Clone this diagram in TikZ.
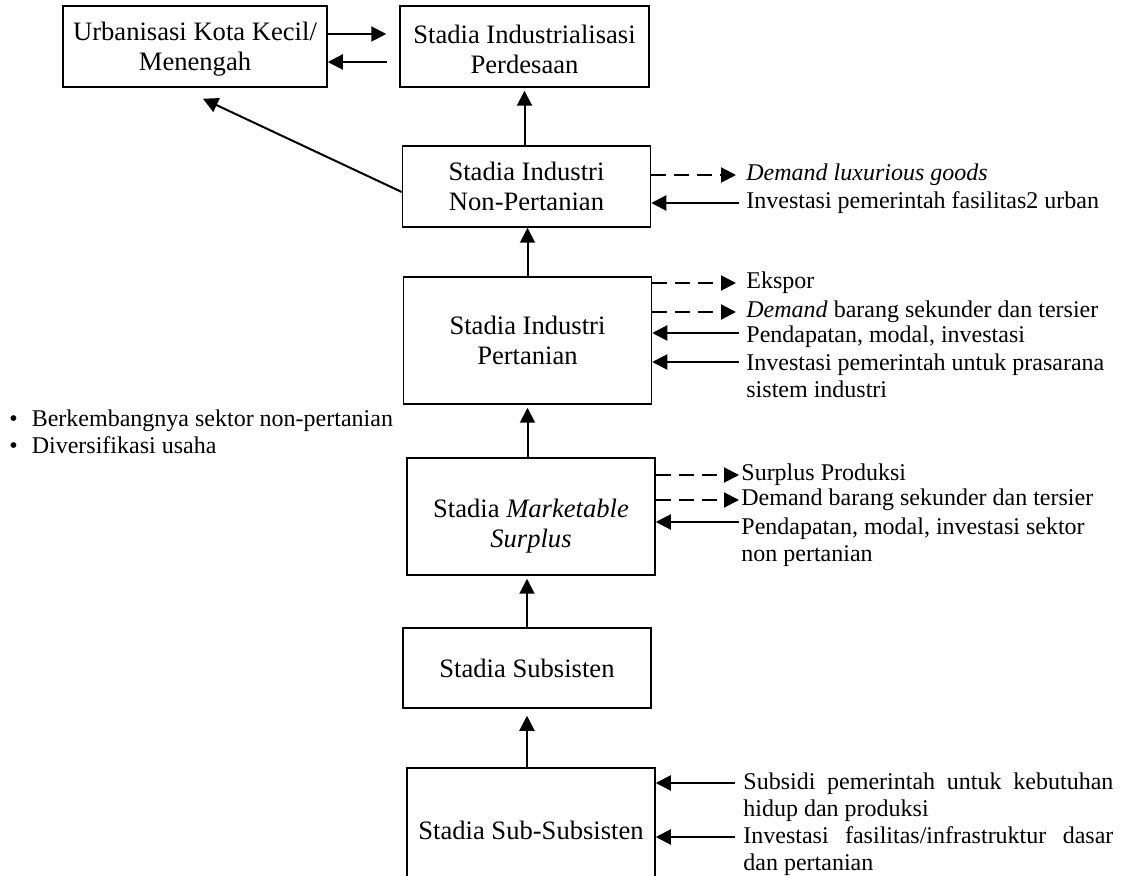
\documentclass[tikz,border=0pt]{standalone}
\usepackage{fontspec}
\setmainfont{Liberation Serif}
\usetikzlibrary{arrows.meta,calc,positioning}

\tikzset{
  stadia/.style={draw,line width=0.75pt,align=center,inner sep=2pt,minimum width=124pt,
    font=\fontsize{13.3pt}{15pt}\selectfont},
  pil/.style={-{Triangle[length=7.5pt,width=7.5pt]},line width=1pt},
  pilputus/.style={pil,dash pattern=on 7.5pt off 4pt},
  ket/.style={anchor=west,inner sep=0pt,align=left},
}

\begin{document}
\begin{tikzpicture}[x=0.5pt,y=-0.5pt,font=\fontsize{12pt}{13.8pt}\selectfont]
      \path[use as bounding box,clip] (0,0) rectangle (1135,876);
      \node[stadia,minimum width=132pt,minimum height=40.5pt] (urban) at (195,46.5) {\rule{0pt}{12pt}Urbanisasi Kota Kecil/\\Menengah};
      \node[stadia,minimum width=124.5pt,minimum height=40.5pt] (desa) at (524.5,46.5) {\rule{0pt}{12pt}Stadia Industrialisasi\\Perdesaan};
      \node[stadia,minimum height=40.5pt] (nonpert) at (526.5,186.5) {Stadia Industri\\Non-Pertanian};
      \node[stadia,minimum height=63.5pt] (pert) at (527.5,340.5) {Stadia Industri\\Pertanian};
      \node[stadia,minimum height=58.5pt] (market) at (531,516.5) {\rule{0pt}{19pt}Stadia \textit{Marketable}\\\textit{Surplus}};
      \node[stadia,minimum height=40pt] (subsis) at (527,668) {Stadia Subsisten};
      \node[stadia,minimum height=62pt] (subsub) at (531,830) {Stadia Sub-Subsisten};

      \draw[pil,shorten >=3.5pt] (subsis.south |- subsub.north) -- (subsis.south);
      \draw[pil,shorten >=1.5pt] (subsis.north) -- (subsis.north |- market.south);
      \draw[pil,shorten >=1.5pt] (pert.south |- market.north) -- (pert.south);
      \draw[pil] (pert.north) -- (pert.north |- nonpert.south);
      \draw[pil,shorten >=1.5pt] (desa.south |- nonpert.north) -- (desa.south);
      \draw[pil,shorten >=6.5pt] ([yshift=6.25pt]urban.east) -- ([yshift=6.25pt]urban.east -| desa.west);
      \draw[pil,shorten <=6pt] ([yshift=-7.75pt]desa.west) -- ([yshift=-7.75pt]desa.west -| urban.east);
      \draw[pil] ([yshift=-2.75pt]nonpert.west) -- ([xshift=4pt,yshift=-5.5pt]urban.south);

      \node[ket] (npA) at (746,175) {\textit{Demand luxurious goods}};
      \node[ket] (npB) at (746,203) {Investasi pemerintah fasilitas2 urban};
      \node[ket] (ptA) at (746,283) {Ekspor};
      \node[ket] (ptB) at (746,312) {\textit{Demand} barang sekunder dan tersier};
      \node[ket] (ptC) at (746,337) {Pendapatan, modal, investasi};
      \node[ket,anchor=north west] (ptD) at (746,353) {Investasi pemerintah untuk prasarana\\sistem industri};
      \node[ket] (mkA) at (741,475) {Surplus Produksi};
      \node[ket] (mkB) at (741,500) {Demand barang sekunder dan tersier};
      \node[ket,anchor=north west] (mkC) at (741,517) {Pendapatan, modal, investasi sektor\\non pertanian};
      \node[ket,anchor=north west] (ssA) at (743,772) {\makebox[185pt][s]{Subsidi pemerintah untuk kebutuhan}\\hidup dan produksi};
      \node[ket,anchor=north west] (ssB) at (743,826) {\makebox[185pt][s]{Investasi fasilitas/infrastruktur dasar}\\dan pertanian};
      \node[ket,anchor=north west] (ciri) at (9,409) {\textbullet\hspace{7pt}Berkembangnya sektor non-pertanian\\\textbullet\hspace{7pt}Diversifikasi usaha};

      \draw[pilputus,shorten >=5pt] (nonpert.east |- npA.west) -- (npA.west);
      \draw[pil,shorten <=3.5pt] (npB.west) -- (nonpert.east |- npB.west);
      \draw[pilputus,shorten >=5pt] (pert.east |- ptA.west) -- (ptA.west);
      \draw[pilputus,shorten >=5pt] (pert.east |- ptB.west) -- (ptB.west);
      \draw[pil,shorten <=3.5pt] ([yshift=2pt]ptC.west) -- ([yshift=2pt]ptC.west -| pert.east);
      \draw[pil,shorten <=3.5pt] ([yshift=-4.5pt]ptD.north west) -- ([yshift=-4.5pt]ptD.north west -| pert.east);
      \draw[pilputus,shorten >=1pt] (market.east |- mkA.west) -- (mkA.west);
      \draw[pilputus,shorten >=1pt] (market.east |- mkB.west) -- (mkB.west);
      \draw[pil,shorten <=1pt] ([yshift=-2.5pt]mkC.north west) -- ([yshift=-2.5pt]mkC.north west -| market.east);
      \draw[pil,shorten <=4pt] ([yshift=-5.5pt]ssA.north west) -- ([yshift=-5.5pt]ssA.north west -| subsub.east);
      \draw[pil,shorten <=4pt] ([yshift=-5.5pt]ssB.north west) -- ([yshift=-5.5pt]ssB.north west -| subsub.east);
    \end{tikzpicture}
\end{document}
